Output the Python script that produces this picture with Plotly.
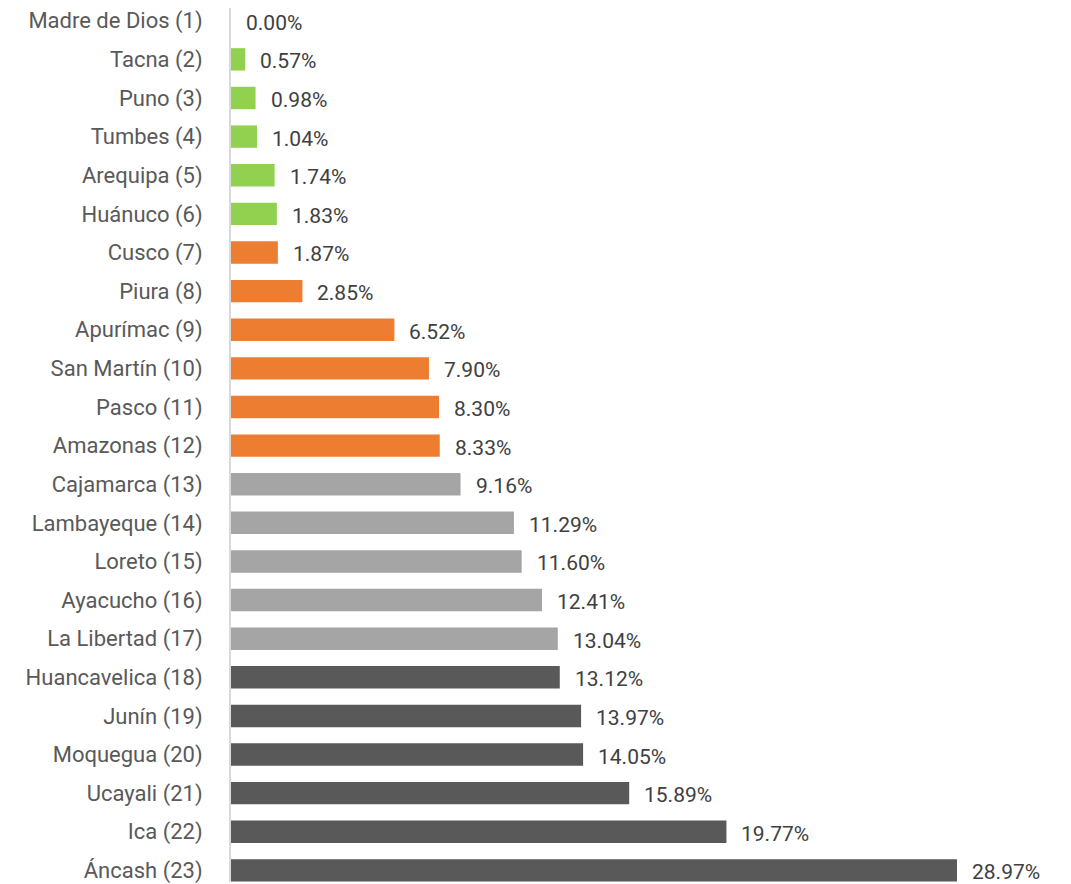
import plotly.graph_objects as go

categories = ["Madre de Dios (1)", "Tacna (2)", "Puno (3)", "Tumbes (4)", "Arequipa (5)",
              "Huánuco (6)", "Cusco (7)", "Piura (8)", "Apurímac (9)", "San Martín (10)",
              "Pasco (11)", "Amazonas (12)", "Cajamarca (13)", "Lambayeque (14)", "Loreto (15)",
              "Ayacucho (16)", "La Libertad (17)", "Huancavelica (18)", "Junín (19)",
              "Moquegua (20)", "Ucayali (21)", "Ica (22)", "Áncash (23)"]
values = [0.00, 0.57, 0.98, 1.04, 1.74, 1.83, 1.87, 2.85, 6.52, 7.90, 8.30, 8.33,
          9.16, 11.29, 11.60, 12.41, 13.04, 13.12, 13.97, 14.05, 15.89, 19.77, 28.97]
groups = ["g"] * 6 + ["o"] * 6 + ["l"] * 5 + ["d"] * 6
group_colors = {"g": "#92D050", "o": "#ED7D31", "l": "#A5A5A5", "d": "#595959"}
colors = [group_colors[g] for g in groups]
labels = [f"{v:.2f}%" for v in values]

FONT = "Roboto"

fig = go.Figure()
fig.add_trace(go.Bar(
    x=values, y=categories, orientation="h",
    marker=dict(color=colors, line=dict(width=0)),
    width=0.58,
    hoverinfo="x+y",
))

for c, v, t in zip(categories, values, labels):
    fig.add_annotation(x=v, y=c, text=t, showarrow=False, xanchor="left",
                       xshift=13, yshift=-2,
                       font=dict(family=FONT, size=21, color="#404040"))

fig.update_layout(
    width=1063, height=876,
    margin=dict(l=223, r=0, t=0, b=0),
    paper_bgcolor="white", plot_bgcolor="white",
    showlegend=False,
)
fig.update_xaxes(range=[0, 33.52], showgrid=False, zeroline=False, showticklabels=False,
                 showline=False)
fig.update_yaxes(categoryorder="array", categoryarray=categories,
                 range=[22.3, -0.33], showgrid=False, zeroline=False,
                 showline=True, linecolor="#D9D9D9", linewidth=2,
                 ticks="", ticklabelstandoff=22,
                 tickfont=dict(family=FONT, size=22, color="#595959"))

fig.write_html("out.html")
